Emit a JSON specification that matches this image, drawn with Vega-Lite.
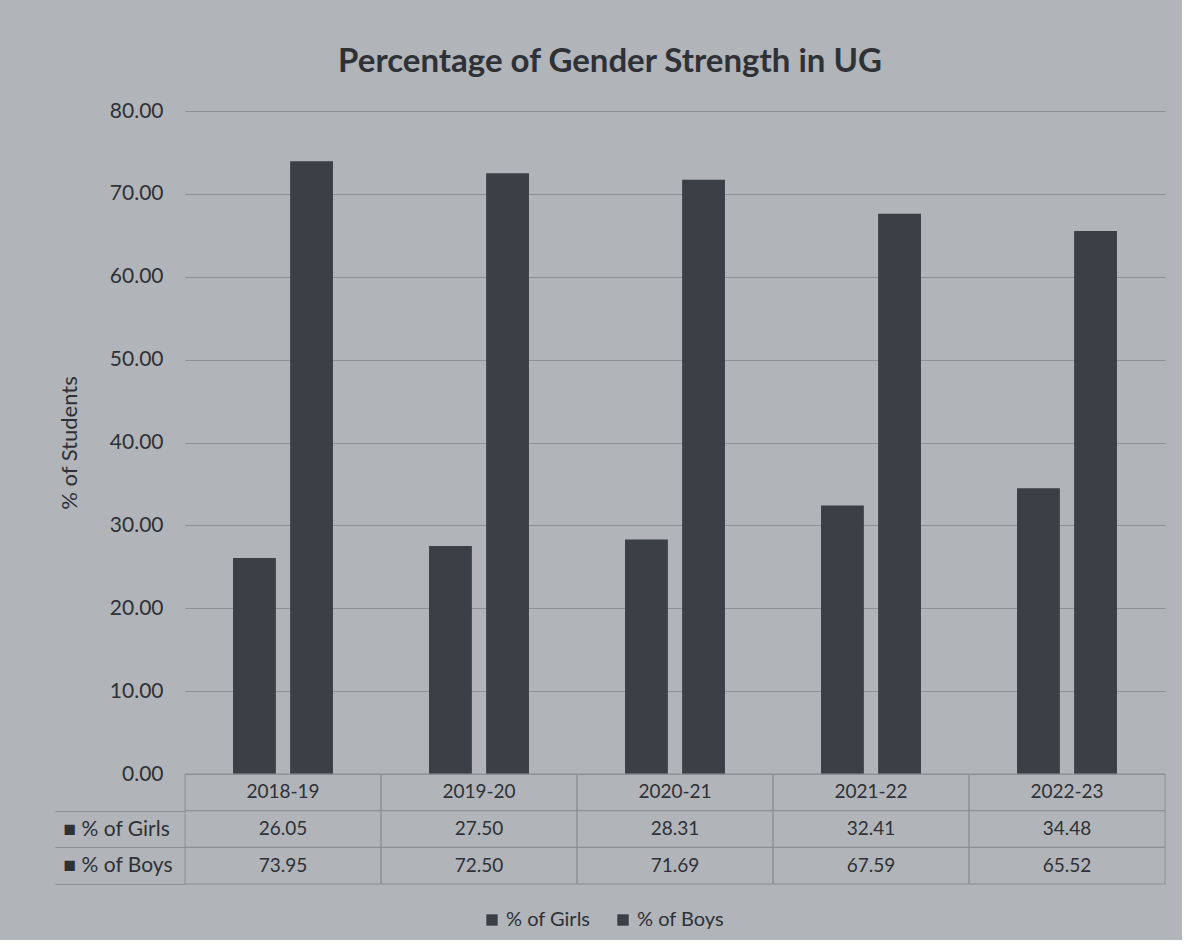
{
  "$schema": "https://vega.github.io/schema/vega-lite/v6.json",
  "background": "#b1b4b9",
  "padding": {"left": 54, "top": 46, "right": 16, "bottom": 10},
  "bounds": "flush",
  "config": {
    "font": "Lato",
    "view": {"stroke": null},
    "concat": {"spacing": 0}
  },
  "title": {
    "text": "Percentage of Gender Strength in UG",
    "fontSize": 33,
    "fontWeight": "bold",
    "color": "#2e3136",
    "anchor": "middle",
    "offset": 21
  },
  "data": {
    "values": [
      {"year": "2018-19", "series": "% of Girls", "value": 26.05},
      {"year": "2018-19", "series": "% of Boys", "value": 73.95},
      {"year": "2019-20", "series": "% of Girls", "value": 27.50},
      {"year": "2019-20", "series": "% of Boys", "value": 72.50},
      {"year": "2020-21", "series": "% of Girls", "value": 28.31},
      {"year": "2020-21", "series": "% of Boys", "value": 71.69},
      {"year": "2021-22", "series": "% of Girls", "value": 32.41},
      {"year": "2021-22", "series": "% of Boys", "value": 67.59},
      {"year": "2022-23", "series": "% of Girls", "value": 34.48},
      {"year": "2022-23", "series": "% of Boys", "value": 65.52}
    ]
  },
  "resolve": {"scale": {"x": "independent", "y": "independent"}},
  "vconcat": [
    {
      "width": 980,
      "height": 663,
      "mark": {"type": "bar", "color": "#3b3f46"},
      "encoding": {
        "x": {
          "field": "year",
          "type": "nominal",
          "scale": {"paddingInner": 0.49, "paddingOuter": 0.245},
          "axis": null
        },
        "xOffset": {
          "field": "series",
          "type": "nominal",
          "sort": ["% of Girls", "% of Boys"],
          "scale": {"paddingInner": 0.25}
        },
        "y": {
          "field": "value",
          "type": "quantitative",
          "scale": {"domain": [0, 80]},
          "axis": {
            "values": [0, 10, 20, 30, 40, 50, 60, 70, 80],
            "format": ".2f",
            "title": "% of Students",
            "titleFontSize": 22,
            "titleFontWeight": "normal",
            "titleColor": "#2e3136",
            "titlePadding": 28,
            "labelFontSize": 21,
            "labelColor": "#2e3136",
            "labelPadding": 22,
            "domain": false,
            "ticks": false,
            "gridColor": "#8d9196",
            "gridWidth": 1
          }
        },
        "color": {
          "field": "series",
          "type": "nominal",
          "sort": ["% of Girls", "% of Boys"],
          "scale": {"range": ["#3b3f46", "#3b3f46"]},
          "legend": {
            "orient": "none",
            "legendX": 297,
            "legendY": 799,
            "direction": "horizontal",
            "title": null,
            "symbolType": "square",
            "symbolSize": 130,
            "symbolStrokeWidth": 0,
            "labelFontSize": 20,
            "labelColor": "#2e3136",
            "labelOffset": 4,
            "columnPadding": 22
          }
        }
      }
    },
    {
      "width": 980,
      "height": 110,
      "encoding": {
        "x": {
          "field": "year",
          "type": "nominal",
          "scale": {"paddingInner": 0, "paddingOuter": 0},
          "axis": null
        }
      },
      "layer": [
        {
          "mark": {"type": "rect", "fill": "transparent", "stroke": "#8d9196", "strokeWidth": 1},
          "encoding": {
            "y": {
              "field": "series",
              "type": "nominal",
              "scale": {"domain": ["Year", "% of Girls", "% of Boys"], "paddingInner": 0, "paddingOuter": 0},
              "axis": {
                "title": null,
                "domain": false,
                "tickBand": "extent",
                "tickSize": 130,
                "tickColor": "#8d9196",
                "tickOpacity": {"condition": {"test": "datum.value == null", "value": 0}, "value": 1},
                "labelExpr": "(datum.value == null || datum.value === 'Year') ? '' : '■ ' + datum.value",
                "labelAlign": "left",
                "labelPadding": -8,
                "labelFontSize": 21,
                "labelColor": "#2e3136"
              }
            }
          }
        },
        {
          "transform": [{"filter": "datum.series === '% of Girls'"}],
          "mark": {"type": "rect", "fill": "transparent", "stroke": "#8d9196", "strokeWidth": 1},
          "encoding": {"y": {"datum": "Year"}}
        },
        {
          "mark": {"type": "text", "fontSize": 19, "color": "#2e3136"},
          "encoding": {
            "y": {"field": "series", "type": "nominal"},
            "text": {"field": "value", "type": "quantitative", "format": ".2f"}
          }
        },
        {
          "transform": [{"filter": "datum.series === '% of Girls'"}],
          "mark": {"type": "text", "fontSize": 19, "color": "#2e3136"},
          "encoding": {
            "y": {"datum": "Year"},
            "text": {"field": "year", "type": "nominal"}
          }
        }
      ]
    }
  ]
}
